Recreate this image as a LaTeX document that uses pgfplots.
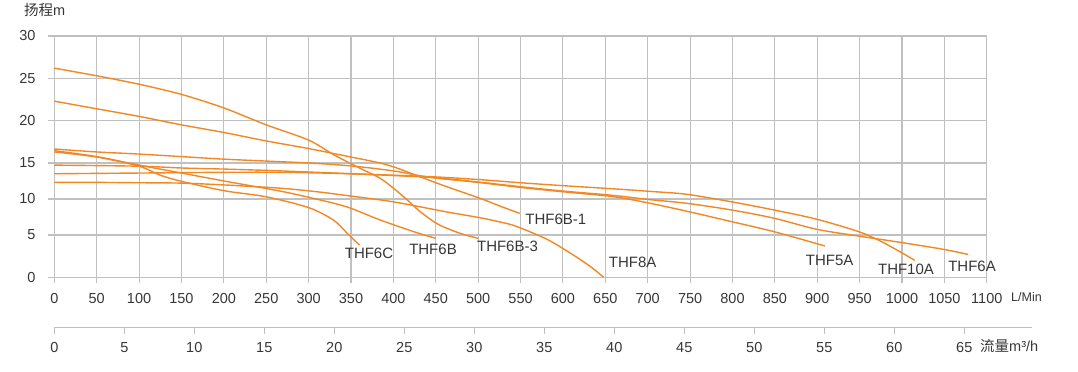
\documentclass[border=0pt]{standalone}
\usepackage{fontspec}
\setmainfont{Liberation Sans}
\newfontfamily\cjk{Noto Sans CJK SC}
\usepackage{pgfplots}
\pgfplotsset{compat=1.18}
\definecolor{gridgray}{RGB}{192,192,192}
\definecolor{pumporange}{RGB}{242,135,35}
\definecolor{txt}{RGB}{55,55,55}
\tikzset{pump/.style={draw=pumporange, line width=1.4bp, smooth, mark=none, solid}}
\begin{document}
\begin{tikzpicture}
\begin{axis}[
  at={(54.3bp,94.7bp)}, anchor=south west,
  scale only axis, width=932.5bp, height=241.3bp,
  xmin=0, xmax=1100, ymin=0, ymax=28.5106,
  xtick={0,50,...,1100},
  ytick={0,5,9.2553,13.5106,18.5106,23.5106,28.5106},
  yticklabels={0,5,10,15,20,25,30},
  grid=major,
  major grid style={draw=gridgray, line width=1.1bp},
  axis line style={draw=gridgray, line width=1.1bp},
  tick style={draw=gridgray, line width=1.1bp},
  tick align=outside, xtick pos=bottom, ytick pos=left,
  major tick length=6bp,
  /pgf/number format/assume math mode=true,
  /pgf/number format/1000 sep={},
  ticklabel style={font=\fontsize{14.5bp}{17bp}\selectfont, text=txt, inner sep=0pt},
  xticklabel style={anchor=north, yshift=-9.7bp},
  yticklabel style={anchor=east, xshift=-12.6bp},
  y filter/.expression={y<5 ? y : (y<15 ? 5+(y-5)*0.85106 : y-1.48936)},
  cycle list={{pump}},
  clip=false,
]
% THF6B-3
\addplot[pump] coordinates {(0,26.2) (50,25.3) (100,24.3) (150,23.1) (200,21.5) (250,19.5) (300,17.7) (330,15.95) (360,14.3) (384,12.9) (400,11.5) (416,9.9) (431,8.3) (451,6.6) (470,5.6) (485,5.0) (500,4.6)};
% THF6B-1
\addplot[pump] coordinates {(0,22.3) (50,21.4) (100,20.5) (150,19.5) (200,18.6) (250,17.6) (300,16.7) (345,15.8) (384,15.0) (404,14.3) (431,13.1) (463,11.7) (502,10.1) (526,9.0) (549,8.0)};
% THF5A
\addplot[pump] coordinates {(0,16.65) (50,16.3) (100,16.05) (150,15.75) (200,15.45) (266,15.15) (300,15.0) (349,14.6) (400,13.9) (443,13.0) (500,12.3) (550,11.6) (600,11.0) (650,10.45) (667,10.2) (703,9.4) (746,8.3) (799,6.85) (849,5.46) (909,3.7)};
% THF6A
\addplot[pump] coordinates {(0,14.7) (100,14.55) (150,14.3) (200,14.15) (266,13.9) (350,13.5) (443,13.0) (500,12.35) (550,11.7) (600,11.1) (650,10.6) (667,10.4) (703,9.9) (746,9.4) (799,8.47) (849,7.33) (899,5.8) (949,4.87) (1000,4.1) (1049,3.3) (1078,2.7)};
% THF10A
\addplot[pump] coordinates {(0,13.5) (100,13.6) (200,13.7) (266,13.7) (350,13.5) (443,13.1) (500,12.7) (550,12.25) (600,11.85) (667,11.35) (703,11.05) (746,10.65) (799,9.6) (849,8.47) (899,7.2) (949,5.46) (974,4.3) (998,3.0) (1015,2.0)};
% THF8A
\addplot[pump] coordinates {(0,12.3) (50,12.3) (100,12.25) (150,12.2) (200,11.95) (266,11.5) (310,11.0) (350,10.4) (400,9.6) (463,8.2) (502,7.4) (526,6.8) (545,6.2) (581,4.5) (608,2.9) (632,1.3) (648,0)};
% THF6B
\addplot[pump] coordinates {(0,16.45) (50,15.75) (100,14.7) (150,13.6) (200,12.5) (266,11.1) (305,10.1) (345,8.9) (384,7.1) (423,5.5) (450,4.6)};
% THF6C
\addplot[pump] coordinates {(0,16.3) (50,15.7) (100,14.55) (125,13.3) (150,12.45) (200,11.15) (250,10.3) (300,8.8) (329,7.1) (345,5.3) (360,3.8)};
\end{axis}
\begin{axis}[
  at={(54.3bp,44.4bp)}, anchor=south west,
  scale only axis, width=977.7bp, height=10bp,
  xmin=0, xmax=69.84, ymin=0, ymax=1,
  axis x line*=bottom, hide y axis,
  xtick={0,5,...,65},
  axis line style={draw=gridgray, line width=1.1bp},
  tick style={draw=gridgray, line width=1.1bp},
  tick align=outside, major tick length=6bp,
  /pgf/number format/assume math mode=true,
  ticklabel style={font=\fontsize{14.5bp}{17bp}\selectfont, text=txt, inner sep=0pt},
  xticklabel style={anchor=north, yshift=-8.5bp},
]
\addplot[draw=none, mark=none] coordinates {(0,0.5)};
\end{axis}
\begin{scope}[every node/.style={text=txt, inner sep=0pt}]
\node[anchor=base west, font=\fontsize{14.5bp}{17bp}\selectfont] at (24bp,356.5bp) {{\cjk 扬程}m};
\node[anchor=base west, font=\fontsize{12.5bp}{15bp}\selectfont] at (1011bp,70bp) {L/Min};
\node[anchor=base west, font=\fontsize{14.5bp}{17bp}\selectfont] at (980bp,20.5bp) {{\cjk 流量}m³/h};
\begin{scope}[every node/.append style={font=\fontsize{15bp}{18bp}\selectfont}]
\node at (369bp,118.7bp) {THF6C};
\node at (433bp,122.7bp) {THF6B};
\node at (507.5bp,125.7bp) {THF6B-3};
\node at (555.8bp,152.7bp) {THF6B-1};
\node at (632.7bp,109.3bp) {THF8A};
\node at (829.7bp,111.7bp) {THF5A};
\node at (906bp,102.7bp) {THF10A};
\node at (972bp,106bp) {THF6A};
\end{scope}
\end{scope}
\pgfresetboundingbox
\useasboundingbox (0,0) rectangle (1078bp,372bp);
\end{tikzpicture}
\end{document}
